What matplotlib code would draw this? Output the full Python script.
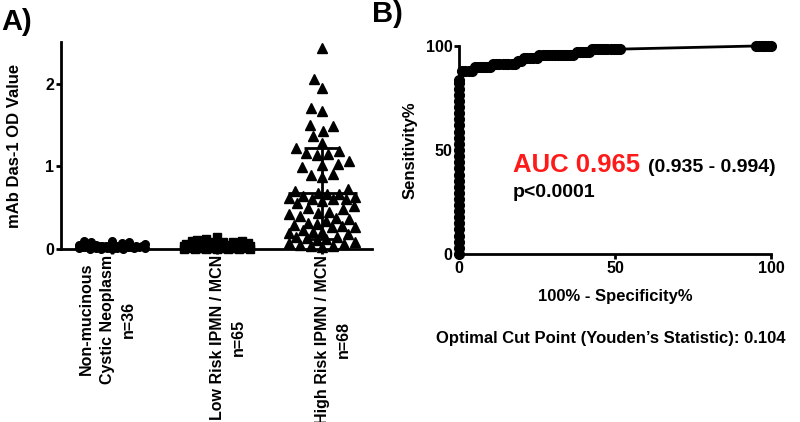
import numpy as np
import matplotlib
matplotlib.use("Agg")
import matplotlib.pyplot as plt
from matplotlib import transforms

plt.rcParams['font.family'] = ['Liberation Sans', 'DejaVu Sans']
plt.rcParams['font.weight'] = 'bold'
plt.rcParams['axes.labelweight'] = 'bold'

# Panel A data (mAb Das-1 OD values)
group_labels = ['Non-mucinous\nCystic Neoplasm\nn=36',
                'Low Risk IPMN / MCN\nn=65',
                'High Risk IPMN / MCN\nn=68']
non_mucinous = [0.10, 0.10, 0.09, 0.08, 0.07, 0.06, 0.05, 0.05,
                0.04, 0.04, 0.04, 0.04, 0.03, 0.03, 0.03, 0.03, 0.03, 0.03,
                0.02, 0.02, 0.02, 0.02, 0.02, 0.02, 0.02, 0.02,
                0.01, 0.01, 0.01, 0.01, 0.01, 0.01, 0.00, 0.00, 0.00, 0.00]
low_risk = [0.15, 0.12, 0.11, 0.10, 0.10, 0.09, 0.08, 0.08, 0.07, 0.07,
            0.06, 0.06, 0.06, 0.05, 0.05, 0.05, 0.05,
            0.04, 0.04, 0.04, 0.04, 0.04, 0.04, 0.04, 0.04,
            0.03, 0.03, 0.03, 0.03, 0.03, 0.03, 0.03, 0.03, 0.03, 0.03, 0.03,
            0.02, 0.02, 0.02, 0.02, 0.02, 0.02, 0.02, 0.02, 0.02, 0.02, 0.02, 0.02,
            0.01, 0.01, 0.01, 0.01, 0.01, 0.01, 0.01, 0.01, 0.01, 0.01,
            0.00, 0.00, 0.00, 0.00, 0.00, 0.00, 0.00]
high_risk = [2.43, 2.05, 1.95, 1.71, 1.67, 1.50, 1.49, 1.43, 1.37, 1.28, 1.22,
             1.18, 1.16, 1.15, 1.14, 1.06, 1.03, 1.02, 0.99, 0.91, 0.90, 0.87,
             0.72, 0.70, 0.68, 0.67, 0.66, 0.64, 0.63, 0.62, 0.61, 0.60, 0.60, 0.58,
             0.55, 0.52, 0.50, 0.48, 0.45, 0.44, 0.42, 0.40, 0.37, 0.36, 0.34,
             0.31, 0.30, 0.29, 0.28, 0.27, 0.26, 0.23, 0.21, 0.20, 0.19, 0.18,
             0.15, 0.14, 0.13, 0.12, 0.11, 0.08, 0.07, 0.06, 0.05, 0.04, 0.03, 0.02]
markers = ['o', 's', '^']

# Panel B data (ROC curve)
roc_fpr = [0, 0, 0, 0, 0, 0, 0, 0, 0, 0, 0, 0, 0, 0, 0, 0, 0, 0, 0, 0,
           0, 0, 0, 0, 0, 0, 0, 0, 0, 0,
           0.99, 2.0, 3.0, 4.0,
           5.0, 5.9, 6.9, 7.9, 8.9, 9.9,
           10.9, 11.9, 12.9, 13.9, 14.9, 15.8, 16.8, 17.8,
           18.8, 19.8,
           20.8, 21.8, 22.8, 23.8, 24.8,
           25.7, 26.7, 27.7, 28.7, 29.7, 30.7, 31.7, 32.7, 33.7, 34.7, 35.6, 36.6,
           37.6, 38.6, 39.6, 40.6, 41.6,
           42.6, 43.6, 44.6, 45.5, 46.5, 47.5, 48.5, 49.5, 50.5, 51.5,
           95.0, 96.0, 97.0, 98.0, 99.0, 100.0]
roc_sens = [0, 2.9, 5.9, 8.8, 11.8, 14.7, 17.6, 20.6, 23.5, 26.5, 29.4, 32.4,
            35.3, 38.2, 41.2, 44.1, 47.1, 50.0, 52.9, 55.9, 58.8, 61.8, 64.7,
            67.6, 70.6, 73.5, 76.5, 79.4, 82.4, 83.8,
            88.2, 88.2, 88.2, 88.2,
            89.7, 89.7, 89.7, 89.7, 89.7, 89.7,
            91.2, 91.2, 91.2, 91.2, 91.2, 91.2, 91.2, 91.2,
            92.6, 92.6,
            94.1, 94.1, 94.1, 94.1, 94.1,
            95.6, 95.6, 95.6, 95.6, 95.6, 95.6, 95.6, 95.6, 95.6, 95.6, 95.6, 95.6,
            97.1, 97.1, 97.1, 97.1, 97.1,
            98.5, 98.5, 98.5, 98.5, 98.5, 98.5, 98.5, 98.5, 98.5, 98.5,
            100, 100, 100, 100, 100, 100]


def swarm_offsets(vals, px_x, px_y, diam=11.0, half_width=33.0):
    # simple beeswarm in pixel space; when there's no room, take the least crowded spot
    vals = np.asarray(vals, float)
    order = np.argsort(vals, kind='stable')
    cand = np.arange(0, half_width + 0.5, 1.0)
    cand = np.concatenate([[0.0], np.ravel(np.column_stack([-cand[1:], cand[1:]]))])
    placed_x, placed_y = [], []
    offs = np.zeros(len(vals))
    for i in order:
        y = vals[i] * px_y
        if not placed_x:
            best = 0.0
        else:
            px = np.array(placed_x)
            py = np.array(placed_y)
            d = np.sqrt((cand[:, None] - px[None, :]) ** 2 + (y - py[None, :]) ** 2).min(axis=1)
            ok = np.where(d >= diam)[0]
            best = cand[ok[0]] if len(ok) else cand[np.argmax(d)]
        placed_x.append(best)
        placed_y.append(y)
        offs[i] = best / px_x
    return offs


fig = plt.figure(figsize=(8, 4.22), dpi=100)

# ---- Panel A
axA = fig.add_axes([0.07625, 0.41, 0.389, 0.49])
axA.set_xlim(-0.486, 2.476)
axA.set_ylim(0, 2.5)
px_x = 311 / (2.476 + 0.486)
px_y = 207 / 2.5
for i, vals in enumerate([non_mucinous, low_risk, high_risk]):
    off = swarm_offsets(vals, px_x, px_y)
    axA.plot(i + off, vals, linestyle='none', marker=markers[i], color='black',
             markersize=7 if i == 2 else 5.5, clip_on=False, zorder=3)
    m = np.mean(vals)
    sd = np.std(vals, ddof=1)
    axA.hlines(m, i - 0.33, i + 0.33, color='black', lw=2, zorder=4)
    axA.hlines([m - sd, m + sd], i - 0.17, i + 0.17, color='black', lw=2, zorder=4)
    axA.vlines(i, m - sd, m + sd, color='black', lw=2, zorder=4)

axA.set_yticks([0, 1, 2])
axA.set_xticks([0, 1, 2])
axA.set_xticklabels(group_labels, rotation=90, multialignment='center',
                    fontsize=11, linespacing=1.5)
axA.set_ylabel('mAb Das-1 OD Value', fontsize=12)
axA.yaxis.set_label_coords(-0.125, 0.5)

# ---- Panel B
axB = fig.add_axes([0.574, 0.398, 0.39, 0.493])
axB.set_xlim(0, 100)
axB.set_ylim(0, 100)
axB.plot(roc_fpr, roc_sens, color='black', lw=2, marker='o', markersize=7,
         clip_on=False, zorder=3)
axB.set_xticks([0, 50, 100])
axB.set_yticks([0, 50, 100])
axB.set_xlabel('100% - Specificity%', fontsize=12)
axB.xaxis.set_label_coords(0.5, -0.17)
axB.set_ylabel('Sensitivity%', fontsize=12)
axB.yaxis.set_label_coords(-0.135, 0.5)

axB.text(17.3, 39.6, 'AUC 0.965', color='#ff1a1a', fontsize=18.5,
         fontweight='bold', va='baseline')
axB.text(60.6, 39.6, '(0.935 - 0.994)', color='black', fontsize=14,
         fontweight='bold', va='baseline')
axB.text(17.3, 27.4, 'p<0.0001', color='black', fontsize=14,
         fontweight='bold', va='baseline')

for ax in (axA, axB):
    for s in ('top', 'right'):
        ax.spines[s].set_visible(False)
    for s in ('left', 'bottom'):
        ax.spines[s].set_linewidth(2)
    ax.tick_params(width=2, length=3.5, labelsize=11.5, pad=1.5)
axA.tick_params(axis='x', pad=0.5)

shifts = [-5, 10.5, 10.5]
for lab, dx in zip(axA.get_xticklabels(), shifts):
    lab.set_transform(lab.get_transform() +
                      transforms.ScaledTranslation(dx / 100, 0, fig.dpi_scale_trans))

fig.text(0.545, 0.199, 'Optimal Cut Point (Youden\u2019s Statistic): 0.104',
         fontsize=12, fontweight='bold', va='center', ha='left')
fig.text(0.002, 0.948, 'A)', fontsize=21, fontweight='bold', va='center')
fig.text(0.465, 0.967, 'B)', fontsize=21, fontweight='bold', va='center')

fig.savefig('out.png', dpi=100)
